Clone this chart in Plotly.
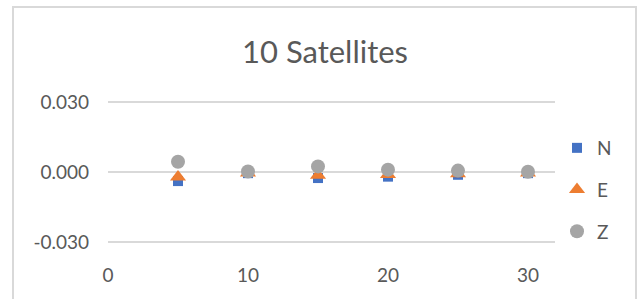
import plotly.graph_objects as go

x_vals = [5, 10, 15, 20, 25, 30]
n_vals = [-0.0039, -0.0005, -0.0026, -0.0020, -0.0012, -0.0005]
e_vals = [-0.0022, -0.0004, -0.0014, -0.0011, -0.0008, -0.0004]
z_vals = [0.0044, 0.0002, 0.0024, 0.0010, 0.0006, 0.0001]
y_ticks = [-0.03, 0.0, 0.03]
y_tick_labels = ["-0.030", "0.000", "0.030"]
x_ticks = [0, 10, 20, 30]

FONT = "Lato"
GREY = "#595959"

fig = go.Figure()
fig.add_trace(go.Scatter(x=x_vals, y=n_vals, mode="markers", name="N", legendgroup="N",
                         marker=dict(symbol="square", size=10, color="#4472C4")))
fig.add_trace(go.Scatter(x=x_vals, y=e_vals, mode="markers", name="E", legendgroup="E",
                         marker=dict(symbol="triangle-up", size=14, color="#ED7D31")))
fig.add_trace(go.Scatter(x=x_vals, y=z_vals, mode="markers", name="Z", legendgroup="Z",
                         marker=dict(symbol="circle", size=14, color="#A5A5A5")))

fig.update_layout(
    width=639, height=299,
    margin=dict(l=108, r=84, t=85, b=37),
    paper_bgcolor="white", plot_bgcolor="white",
    font=dict(family=FONT, size=19, color=GREY),
    title=dict(text="10 Satellites", x=(325) / 639, xanchor="center", y=1 - 52 / 299, yanchor="middle",
               font=dict(family=FONT, size=31, color=GREY)),
    showlegend=True,
    legend=dict(x=(557 - 108) / 447, xanchor="left", y=(262 - 129) / 177, yanchor="top",
                tracegroupgap=14, font=dict(size=19, color=GREY), itemwidth=30),
    xaxis=dict(range=[0, 31.93], tickvals=x_ticks, showgrid=False, zeroline=False,
               showline=False, ticks="", tickfont=dict(size=19, color=GREY)),
    yaxis=dict(range=[-0.0386, 0.0373], tickvals=y_ticks, ticktext=y_tick_labels,
               showgrid=True, gridcolor="#D9D9D9", gridwidth=2, zeroline=False,
               showline=False, ticks="", ticklabelstandoff=18,
               tickfont=dict(size=19, color=GREY)),
    shapes=[dict(type="rect", xref="paper", yref="paper",
                 x0=(13 - 108) / 447, x1=(636 - 108) / 447,
                 y0=-0.4, y1=(262 - 7) / 177,
                 line=dict(color="#D9D9D9", width=2), fillcolor="rgba(0,0,0,0)", layer="below")],
)

fig.write_html("out.html", config={"displayModeBar": False},
               post_script="document.body.style.margin='0';")
